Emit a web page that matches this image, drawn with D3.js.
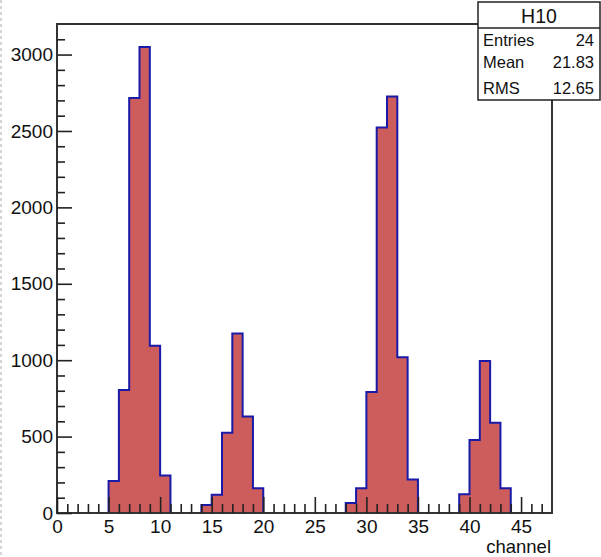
<!DOCTYPE html>
<html>
<head>
<meta charset="utf-8">
<script src="https://cdn.jsdelivr.net/npm/d3@7/dist/d3.min.js"></script>
<style>
  html, body { margin: 0; padding: 0; background: #fff; }
  svg { display: block; }
  text { font-family: "Liberation Sans", Arial, sans-serif; fill: #111; }
</style>
</head>
<body>
<svg id="chart" width="601" height="557"></svg>
<script>
// Histogram H10: channel bins of width 1, lower edge and content
const binLow = [5, 6, 7, 8, 9, 10,
                14, 15, 16, 17, 18, 19,
                28, 29, 30, 31, 32, 33, 34,
                39, 40, 41, 42, 43];
const binCounts = [210, 805, 2715, 3050, 1095, 245,
                   52, 120, 525, 1175, 632, 162,
                   66, 162, 792, 2522, 2725, 1020, 220,
                   122, 478, 995, 590, 162];
const xMajorTicks = [0, 5, 10, 15, 20, 25, 30, 35, 40, 45];
const yMajorTicks = [0, 500, 1000, 1500, 2000, 2500, 3000];
const statsTitle = "H10";
const statsNames = ["Entries", "Mean", "RMS"];
const statsValues = ["24", "21.83", "12.65"];
const xTitle = "channel";

const svg = d3.select("#chart");
const plot = { left: 57, right: 552, top: 24, bottom: 513 };

const x = d3.scaleLinear().domain([0, 48]).range([plot.left, plot.right]);
const y = d3.scaleLinear().domain([0, 3200]).range([plot.bottom, plot.top]);

// dashed pad edge at the far left
svg.append("line")
  .attr("x1", 1).attr("x2", 1).attr("y1", 0).attr("y2", 557)
  .attr("stroke", "#c8c8c8").attr("stroke-width", 1.5)
  .attr("stroke-dasharray", "3,3");

// histogram contour: full step line across the axis range
const counts = new Map(binLow.map((b, i) => [b, binCounts[i]]));
const pts = [[x(0), y(0)]];
for (let b = 0; b < 48; b++) {
  const v = counts.get(b) || 0;
  pts.push([x(b), y(v)]);
  pts.push([x(b + 1), y(v)]);
}
pts.push([x(48), y(0)]);

svg.append("path")
  .attr("d", d3.line()(pts) + "Z")
  .attr("fill", "#cd5c5c")
  .attr("stroke", "none");

svg.append("path")
  .attr("d", d3.line()(pts))
  .attr("fill", "none")
  .attr("stroke", "#1a1aa8")
  .attr("stroke-width", 2)
  .attr("stroke-linejoin", "miter");

// frame
svg.append("rect")
  .attr("x", plot.left).attr("y", plot.top)
  .attr("width", plot.right - plot.left)
  .attr("height", plot.bottom - plot.top)
  .attr("fill", "none")
  .attr("stroke", "#333").attr("stroke-width", 2);

// x axis: major and minor ticks pointing into the frame
const xMinor = d3.range(0, 48).filter(v => v % 5 !== 0);
const gxMinor = svg.append("g")
  .attr("transform", `translate(0,${plot.bottom})`)
  .call(d3.axisBottom(x).tickValues(xMinor).tickSize(-9).tickFormat(""));
const gx = svg.append("g")
  .attr("transform", `translate(0,${plot.bottom})`)
  .call(d3.axisBottom(x).tickValues(xMajorTicks).tickSize(-16).tickPadding(7)
        .tickFormat(d3.format("d")));

// y axis
const yMinor = d3.range(0, 3200, 100).filter(v => v % 500 !== 0);
const gyMinor = svg.append("g")
  .attr("transform", `translate(${plot.left},0)`)
  .call(d3.axisLeft(y).tickValues(yMinor).tickSize(-8).tickFormat(""));
const gy = svg.append("g")
  .attr("transform", `translate(${plot.left},0)`)
  .call(d3.axisLeft(y).tickValues(yMajorTicks).tickSize(-15).tickPadding(4)
        .tickFormat(d3.format("d")));

[gx, gy, gxMinor, gyMinor].forEach(g => {
  g.select(".domain").remove();
  g.selectAll(".tick line").attr("stroke", "#222").attr("stroke-width", 1.6);
  g.selectAll("text")
    .attr("font-family", "'Liberation Sans', Arial, sans-serif")
    .attr("font-size", 19)
    .attr("fill", "#111");
});

// axis title
svg.append("text")
  .attr("x", 551).attr("y", 553)
  .attr("text-anchor", "end")
  .attr("font-size", 18.5)
  .text(xTitle);

// statistics box
const box = { x: 478, y: 2, w: 122, h: 98, titleH: 26 };
const gs = svg.append("g");
gs.append("rect")
  .attr("x", box.x).attr("y", box.y).attr("width", box.w).attr("height", box.h)
  .attr("fill", "#fff").attr("stroke", "#222").attr("stroke-width", 1.5);
gs.append("line")
  .attr("x1", box.x).attr("x2", box.x + box.w)
  .attr("y1", box.y + box.titleH).attr("y2", box.y + box.titleH)
  .attr("stroke", "#222").attr("stroke-width", 1.5);
gs.append("text")
  .attr("x", box.x + box.w / 2).attr("y", box.y + 20.5)
  .attr("text-anchor", "middle")
  .attr("font-size", 19.5)
  .text(statsTitle);
const rowY = [46, 68, 94];
statsNames.forEach((n, i) => {
  gs.append("text")
    .attr("x", 483).attr("y", rowY[i])
    .attr("font-size", 16.5)
    .text(n);
  gs.append("text")
    .attr("x", 594).attr("y", rowY[i])
    .attr("text-anchor", "end")
    .attr("font-size", 16.5)
    .text(statsValues[i]);
});
</script>
</body>
</html>
